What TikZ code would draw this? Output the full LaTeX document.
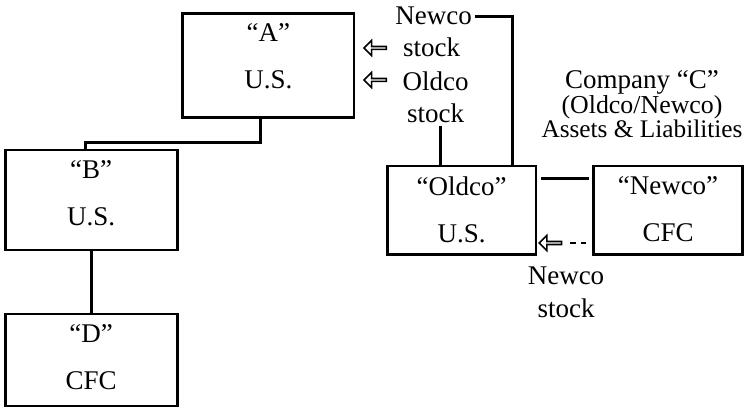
\documentclass[tikz,border=0pt]{standalone}
\usepackage{fontspec}
\setmainfont{Liberation Serif}
\usetikzlibrary{calc,shapes.arrows}

\tikzset{
    unit/.style={draw, line width=2pt, align=center, inner sep=0pt,
        font=\fontsize{19.2}{23.5}\selectfont},
    lbl/.style={inner sep=1pt, font=\fontsize{19.2}{23.5}\selectfont},
    hollow/.style={draw, line width=1.1pt, single arrow, shape border rotate=180,
        inner sep=0pt, minimum height=0.56cm, minimum width=0.38cm,
        single arrow head extend=0.08cm, single arrow head indent=0pt},
}

\begin{document}
\begin{tikzpicture}[line width=2pt]
    \useasboundingbox (0,0) rectangle (18.6,-10.2);

    % corporations
    \node[unit, minimum width=4.28cm, minimum height=2.6cm, text depth=0.45cm]
        (a) at (6.71,-1.63) {“A”\\[10pt]U.S.};

    \node[unit, minimum width=4.3cm, minimum height=2.5cm, text depth=0.35cm]
        (b) at (2.28,-5.0) {“B”\\[10pt]U.S.};

    \node[unit, minimum width=4.3cm, minimum height=2.3cm, text depth=0.15cm]
        (d) at (2.28,-9.0) {“D”\\[10pt]CFC};

    \node[unit, minimum width=3.72cm, minimum height=2.22cm, text depth=0.05cm]
        (oldco) at (11.54,-5.26) {“Oldco”\\[10pt]U.S.};

    \node[unit, minimum width=3.72cm, minimum height=2.22cm, text depth=0.05cm]
        (newco) at (16.7,-5.26) {“Newco”\\[10pt]CFC};

    % ownership lines
    \draw ([xshift=-0.19cm]a.south) -- ++(0,-0.6) -| ([xshift=-0.15cm]b.north);
    \draw (b.south) -- (d.north);
    \draw[shorten <=0.1cm, shorten >=0.08cm]
        ([yshift=-0.35cm]oldco.north east) -- ([yshift=-0.35cm]newco.north west);

    % exchange with A
    \node[lbl, anchor=base] (nwA) at (10.84,-0.625) {Newco};
    \node[lbl, anchor=base] (stA) at (10.79,-1.425) {stock};
    \node[lbl, anchor=base] (ocA) at (10.89,-2.275) {Oldco};
    \node[lbl, anchor=base] (stB) at (10.89,-3.075) {stock};
    \node[hollow] (inA) at (9.4,-1.2) {};
    \node[hollow] (inB) at (9.4,-2.0) {};

    \draw (nwA.east) -| ([xshift=-0.63cm]oldco.north east);
    \draw ([xshift=0.12cm]stB.south) -- ([xshift=0.12cm]stB.south |- oldco.north);

    % company C
    \node[align=center, inner sep=0pt] (compc) at (16.05,-2.6)
        {\fontsize{19.2}{17.8}\selectfont Company “C”\\
         \fontsize{18.4}{17.8}\selectfont (Oldco/Newco)\\
         \fontsize{18}{17.8}\selectfont Assets \& Liabilities};

    % Newco stock to Oldco
    \node[hollow] (back) at (13.78,-6.075) {};
    \draw[line width=1.4pt, dash pattern=on 4pt off 3.5pt]
        ([xshift=-0.15cm]newco.west |- back) -- ([xshift=0.15cm]back.east);
    \node[lbl, align=center] (nwB) at (14.15,-7.3) {Newco\\stock};
\end{tikzpicture}
\end{document}
